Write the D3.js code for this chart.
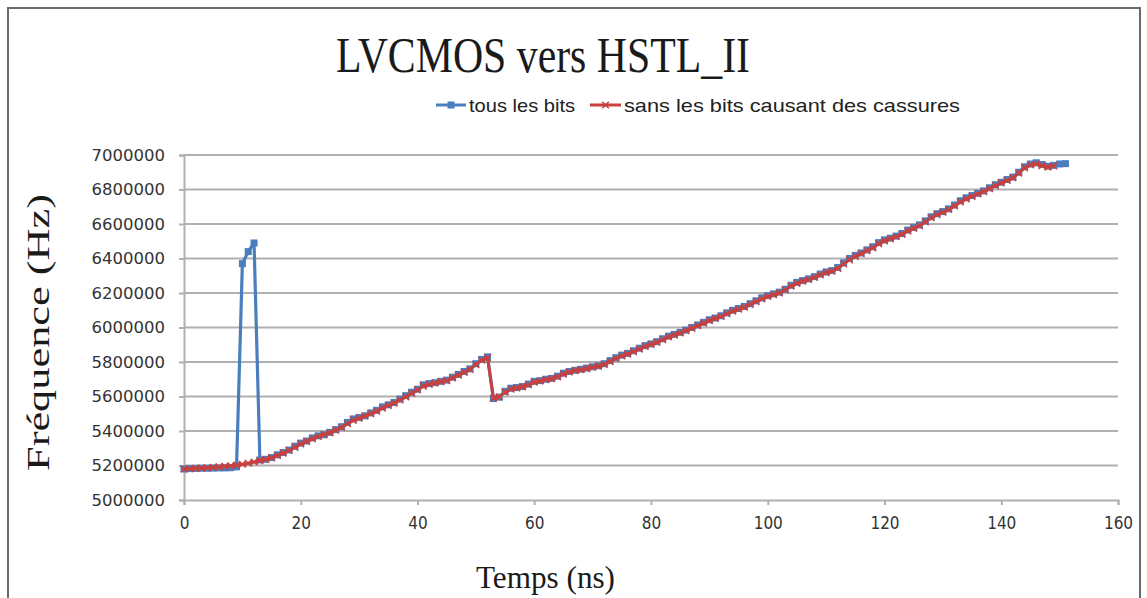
<!DOCTYPE html>
<html>
<head>
<meta charset="utf-8">
<script src="https://cdn.jsdelivr.net/npm/d3@7"></script>
<style>
  html, body { margin: 0; padding: 0; background: #fff; }
  svg { display: block; }
</style>
</head>
<body>
<svg id="chart" width="1147" height="598"></svg>
<script>
// Chart text
const chartTitle = "LVCMOS vers HSTL_II";
const xAxisTitle = "Temps (ns)";
const yAxisTitle = "Fréquence (Hz)";
const seriesNames = ["tous les bits", "sans les bits causant des cassures"];

// Axis ticks
const xTicks = [0, 20, 40, 60, 80, 100, 120, 140, 160];
const yTicks = [5000000, 5200000, 5400000, 5600000, 5800000, 6000000, 6200000, 6400000, 6600000, 6800000, 7000000];

// Time (ns) of each sample
const timeAll = d3.range(0, 152);
const timeClean = d3.range(0, 150);

// Frequency (Hz) with every bit
const freqAll = [
  5180000, 5182000, 5183000, 5184000, 5184000, 5185000, 5186000, 5186000, 5187000, 5192000,
  6370000, 6440000, 6490000, 5232000, 5236000, 5246000, 5262000, 5275000, 5290000, 5312000,
  5330000, 5342000, 5360000, 5372000, 5378000, 5392000, 5408000, 5425000, 5450000, 5470000,
  5478000, 5488000, 5505000, 5520000, 5540000, 5552000, 5565000, 5585000, 5605000, 5625000,
  5642000, 5668000, 5675000, 5680000, 5688000, 5695000, 5712000, 5728000, 5745000, 5760000,
  5790000, 5815000, 5830000, 5588000, 5596000, 5630000, 5648000, 5652000, 5658000, 5672000,
  5688000, 5692000, 5700000, 5705000, 5718000, 5735000, 5745000, 5752000, 5758000, 5765000,
  5772000, 5778000, 5790000, 5808000, 5825000, 5840000, 5850000, 5865000, 5880000, 5895000,
  5905000, 5918000, 5935000, 5950000, 5960000, 5972000, 5985000, 6000000, 6015000, 6030000,
  6045000, 6055000, 6068000, 6085000, 6100000, 6110000, 6122000, 6138000, 6155000, 6172000,
  6185000, 6195000, 6205000, 6222000, 6245000, 6262000, 6272000, 6282000, 6295000, 6310000,
  6322000, 6330000, 6348000, 6375000, 6400000, 6418000, 6432000, 6450000, 6468000, 6492000,
  6508000, 6518000, 6530000, 6545000, 6565000, 6580000, 6595000, 6618000, 6642000, 6660000,
  6672000, 6688000, 6710000, 6735000, 6752000, 6765000, 6778000, 6792000, 6810000, 6828000,
  6842000, 6858000, 6872000, 6900000, 6932000, 6948000, 6955000, 6945000, 6935000, 6940000,
  6948000, 6950000
];

// Frequency (Hz) without the bits that cause breaks
const freqClean = [
  5180000, 5181000, 5183000, 5185000, 5187000, 5189000, 5192000, 5195000, 5198000, 5202000,
  5207000, 5213000, 5220000, 5228000, 5235000, 5244000, 5258000, 5272000, 5287000, 5305000,
  5325000, 5340000, 5355000, 5368000, 5380000, 5390000, 5405000, 5420000, 5442000, 5462000,
  5475000, 5487000, 5500000, 5515000, 5532000, 5548000, 5562000, 5580000, 5598000, 5618000,
  5638000, 5660000, 5670000, 5678000, 5686000, 5692000, 5708000, 5724000, 5740000, 5757000,
  5785000, 5810000, 5825000, 5590000, 5598000, 5625000, 5642000, 5650000, 5656000, 5668000,
  5683000, 5690000, 5698000, 5703000, 5714000, 5730000, 5742000, 5750000, 5755000, 5762000,
  5770000, 5776000, 5786000, 5802000, 5820000, 5835000, 5846000, 5860000, 5875000, 5890000,
  5902000, 5914000, 5930000, 5945000, 5956000, 5968000, 5982000, 5996000, 6010000, 6025000,
  6040000, 6052000, 6064000, 6080000, 6095000, 6106000, 6118000, 6134000, 6150000, 6166000,
  6180000, 6190000, 6200000, 6218000, 6240000, 6256000, 6268000, 6278000, 6290000, 6305000,
  6318000, 6326000, 6342000, 6368000, 6392000, 6412000, 6428000, 6445000, 6462000, 6486000,
  6502000, 6514000, 6526000, 6540000, 6560000, 6575000, 6590000, 6612000, 6636000, 6654000,
  6668000, 6684000, 6705000, 6728000, 6746000, 6760000, 6774000, 6788000, 6805000, 6822000,
  6838000, 6852000, 6868000, 6895000, 6925000, 6942000, 6948000, 6938000, 6930000, 6936000
];

const blue = "#4a7ebf";
const red = "#c9403e";
const gridColor = "#b0b0b0";
const labelColor = "#333";

const svg = d3.select("#chart");

// Outer frame
svg.append("rect")
  .attr("x", 8).attr("y", 8)
  .attr("width", 1132).attr("height", 620)
  .attr("fill", "#fff")
  .attr("stroke", "#6a6a6a").attr("stroke-width", 2);

const x = d3.scaleLinear().domain([0, 160]).range([184, 1118]);
const y = d3.scaleLinear().domain([5000000, 7000000]).range([500, 155]);

// Horizontal gridlines
svg.append("g").selectAll("line").data(yTicks.filter(v => v > 5000000)).join("line")
  .attr("x1", x(0)).attr("x2", x(160))
  .attr("y1", d => y(d)).attr("y2", d => y(d))
  .attr("stroke", gridColor).attr("stroke-width", 2);

// Y axis
const yAxis = svg.append("g")
  .attr("transform", `translate(${x(0)},0)`)
  .call(d3.axisLeft(y).tickValues(yTicks).tickSize(5).tickPadding(14).tickFormat(d3.format("d")));
yAxis.select(".domain").attr("stroke", gridColor).attr("stroke-width", 2);
yAxis.selectAll(".tick line").attr("stroke", gridColor).attr("stroke-width", 2);
yAxis.selectAll(".tick text")
  .attr("fill", labelColor)
  .style("font-family", "'DejaVu Sans', sans-serif")
  .style("font-size", "16.5px");

// X axis
const xAxis = svg.append("g")
  .attr("transform", `translate(0,${y(5000000)})`)
  .call(d3.axisBottom(x).tickValues(xTicks).tickSize(5).tickPadding(12).tickFormat(d3.format("d")));
xAxis.select(".domain").attr("stroke", gridColor).attr("stroke-width", 2);
xAxis.selectAll(".tick line").attr("stroke", gridColor).attr("stroke-width", 2);
xAxis.selectAll(".tick text")
  .attr("fill", labelColor)
  .style("font-family", "'Liberation Sans Narrow', 'DejaVu Sans Condensed', 'Liberation Sans', sans-serif")
  .style("font-size", "17px");

// Series lines
const line = d3.line().x(d => x(d[0])).y(d => y(d[1]));
const blueData = timeAll.map((t, i) => [t, freqAll[i]]);
const redData = timeClean.map((t, i) => [t, freqClean[i]]);

svg.append("path").datum(blueData)
  .attr("d", line).attr("fill", "none")
  .attr("stroke", blue).attr("stroke-width", 3.2).attr("stroke-linejoin", "round");

svg.append("g").selectAll("rect").data(blueData).join("rect")
  .attr("x", d => x(d[0]) - 3.5).attr("y", d => y(d[1]) - 3.5)
  .attr("width", 7).attr("height", 7)
  .attr("fill", blue);

svg.append("path").datum(redData)
  .attr("d", line).attr("fill", "none")
  .attr("stroke", red).attr("stroke-width", 3).attr("stroke-linejoin", "round");

const cross = d3.symbol().type(d3.symbolX).size(30);
svg.append("g").selectAll("path").data(redData).join("path")
  .attr("transform", d => `translate(${x(d[0])},${y(d[1])})`)
  .attr("d", cross)
  .attr("fill", "none").attr("stroke", red).attr("stroke-width", 1.5);

// Title
svg.append("text")
  .attr("x", 336).attr("y", 72)
  .attr("textLength", 414).attr("lengthAdjust", "spacingAndGlyphs")
  .style("font-family", "'Liberation Serif', 'Times New Roman', serif")
  .style("font-size", "50px")
  .attr("fill", "#1a1a1a")
  .text(chartTitle);

// Legend
const legend = svg.append("g");
legend.append("line").attr("x1", 436).attr("x2", 466).attr("y1", 105).attr("y2", 105)
  .attr("stroke", blue).attr("stroke-width", 3);
legend.append("rect").attr("x", 447.5).attr("y", 101.5).attr("width", 7).attr("height", 7).attr("fill", blue);
legend.append("text").attr("x", 469).attr("y", 112)
  .attr("textLength", 106).attr("lengthAdjust", "spacingAndGlyphs")
  .style("font-family", "'Liberation Sans', sans-serif").style("font-size", "19px")
  .attr("fill", "#222").text(seriesNames[0]);
legend.append("line").attr("x1", 590).attr("x2", 621).attr("y1", 105).attr("y2", 105)
  .attr("stroke", red).attr("stroke-width", 3);
legend.append("path").attr("transform", "translate(605.5,105)").attr("d", cross)
  .attr("fill", "none").attr("stroke", red).attr("stroke-width", 1.5);
legend.append("text").attr("x", 624).attr("y", 112)
  .attr("textLength", 336).attr("lengthAdjust", "spacingAndGlyphs")
  .style("font-family", "'Liberation Sans', sans-serif").style("font-size", "19px")
  .attr("fill", "#222").text(seriesNames[1]);

// Axis titles
svg.append("text")
  .attr("x", 476).attr("y", 588)
  .attr("textLength", 139).attr("lengthAdjust", "spacingAndGlyphs")
  .style("font-family", "'Liberation Serif', 'Times New Roman', serif")
  .style("font-size", "32px")
  .attr("fill", "#1a1a1a")
  .text(xAxisTitle);

svg.append("text")
  .attr("transform", "translate(49,471) rotate(-90)")
  .attr("textLength", 277).attr("lengthAdjust", "spacingAndGlyphs")
  .style("font-family", "'Liberation Serif', 'Times New Roman', serif")
  .style("font-size", "32px")
  .attr("fill", "#1a1a1a")
  .text(yAxisTitle);
</script>
</body>
</html>
